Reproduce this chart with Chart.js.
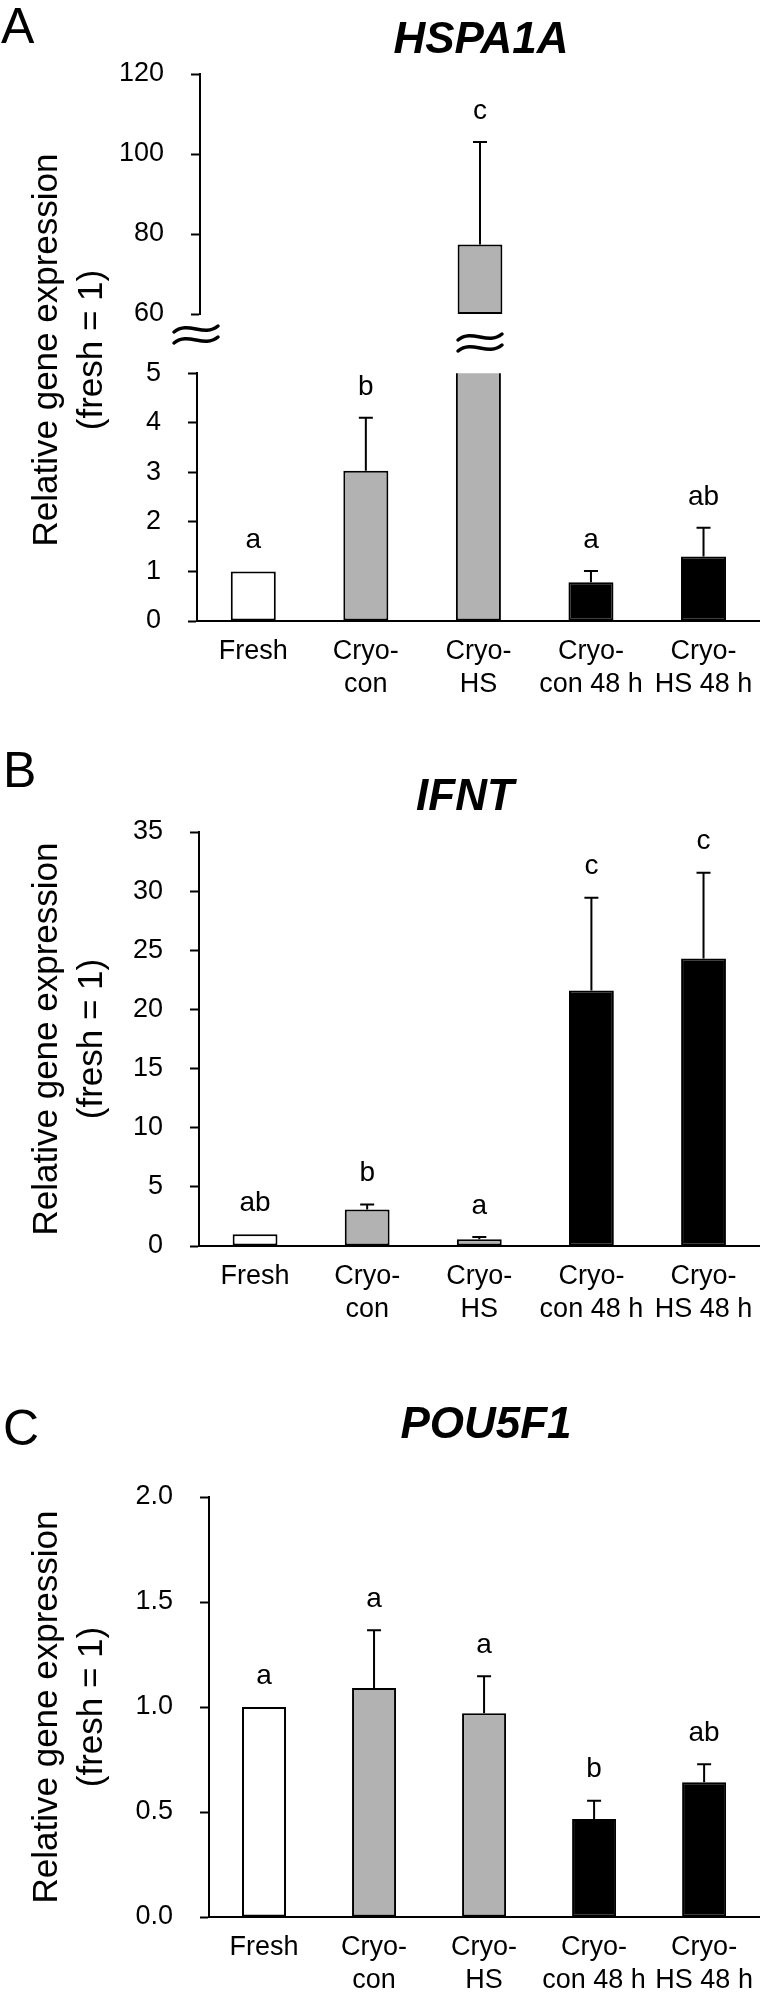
<!DOCTYPE html>
<html><head><meta charset="utf-8">
<script src="https://cdn.jsdelivr.net/npm/chart.js@4.4.0/dist/chart.umd.min.js"></script>
<style>
html,body{margin:0;padding:0;background:#fff;}
#wrap{position:relative;width:767px;height:1996px;overflow:hidden;}
canvas{position:absolute;left:0;}
</style></head><body><div id="wrap">
<canvas id="cA1" width="767" height="700" style="top:0px"></canvas>
<canvas id="cA2" width="767" height="370" style="top:330px"></canvas>
<canvas id="cB" width="767" height="630" style="top:700px"></canvas>
<canvas id="cC" width="767" height="666" style="top:1330px"></canvas>
</div>
<script>
// ---------- data ----------
const categories = [["Fresh"], ["Cryo-", "con"], ["Cryo-", "HS"], ["Cryo-", "con 48 h"], ["Cryo-", "HS 48 h"]];
const barColors = ["#ffffff", "#b2b2b2", "#b2b2b2", "#000000", "#000000"];

const hspa1aMean = [1.0, 3.03, 77.4, 0.78, 1.30];
const hspa1aErrTop = [null, 4.10, 103.0, 1.01, 1.88];
const hspa1aLetters = ["a", "b", "c", "a", "ab"];
const hspa1aLowerRange = [0, 5, 1];     // min, max, step
const hspa1aUpperRange = [60, 120, 20];

const ifntMean = [1.0, 3.08, 0.57, 21.6, 24.3];
const ifntErrTop = [null, 3.5, 0.76, 29.45, 31.56];
const ifntLetters = ["ab", "b", "a", "c", "c"];
const ifntRange = [0, 35, 5];

const pou5f1Mean = [1.0, 1.09, 0.97, 0.467, 0.642];
const pou5f1ErrTop = [null, 1.365, 1.147, 0.554, 0.727];
const pou5f1Letters = ["a", "a", "a", "b", "ab"];
const pou5f1Range = [0, 2.0, 0.5];

const yTitle1 = "Relative gene expression";
const yTitle2 = "(fresh = 1)";

// ---------- styling helpers ----------
const FONT = 'Arial, "Liberation Sans", sans-serif';

const errLetterPlugin = {
  id: 'errLetters',
  afterDatasetsDraw(chart, args, opts) {
    if (!opts || !opts.mean) return;
    const ctx = chart.ctx;
    const meta = chart.getDatasetMeta(0);
    const ys = chart.scales.y;
    ctx.save();
    ctx.strokeStyle = '#000';
    ctx.lineWidth = 2;
    opts.err.forEach((e, i) => {
      if (e == null) return;
      const x = meta.data[i].x;
      const y0 = ys.getPixelForValue(opts.mean[i]);
      const y1 = ys.getPixelForValue(e);
      ctx.beginPath();
      ctx.moveTo(x, y0); ctx.lineTo(x, y1);
      ctx.moveTo(x - 7, y1); ctx.lineTo(x + 7, y1);
      ctx.stroke();
    });
    ctx.fillStyle = '#000';
    ctx.font = '28px ' + FONT;
    ctx.textAlign = 'center';
    ctx.textBaseline = 'middle';
    opts.letters.forEach((l, i) => {
      if (!l) return;
      const x = meta.data[i].x;
      const top = opts.err[i] != null ? opts.err[i] : opts.mean[i];
      ctx.fillText(l, x, ys.getPixelForValue(top) - 31);
    });
    ctx.restore();
  }
};

const textPlugin = {
  id: 'pageText',
  afterDraw(chart, args, opts) {
    if (!opts || !opts.items) return;
    const ctx = chart.ctx;
    const off = opts.top || 0;
    ctx.save();
    ctx.fillStyle = '#000';
    opts.items.forEach(it => {
      ctx.save();
      ctx.font = it.font;
      ctx.textAlign = it.align || 'center';
      ctx.textBaseline = it.baseline || 'alphabetic';
      ctx.translate(it.x, it.y - off);
      if (it.rot) ctx.rotate(it.rot);
      ctx.fillText(it.text, 0, 0);
      ctx.restore();
    });
    if (opts.breaks) {
      ctx.strokeStyle = '#000';
      ctx.lineWidth = 3.5;
      ctx.lineCap = 'round';
      opts.breaks.forEach(b => {
        let cx = b.x;
        if (b.barIndex != null) cx = chart.getDatasetMeta(0).data[b.barIndex].x;
        [b.y - 5, b.y + 6].forEach(cy => {
          const w = 44, h = 9, x0 = cx - w / 2, yy = cy - off;
          ctx.beginPath();
          ctx.moveTo(x0, yy + 3);
          ctx.bezierCurveTo(x0 + w * 0.33, yy - h, x0 + w * 0.67, yy + h, x0 + w, yy - 3);
          ctx.stroke();
        });
      });
    }
    ctx.restore();
  }
};

function yTitleItems(centerY) {
  return [
    {text: yTitle1, x: 47, y: centerY, rot: -Math.PI / 2, font: '35px ' + FONT, baseline: 'middle'},
    {text: yTitle2, x: 92, y: centerY, rot: -Math.PI / 2, font: '35px ' + FONT, baseline: 'middle'}
  ];
}

function makeChart(id, cfg) {
  const {data, range, axisX, areaTop, areaRight, xHeight, showX, errOpts, textOpts, decimals, padBottom} = cfg;
  return new Chart(document.getElementById(id), {
    type: 'bar',
    data: {
      labels: categories,
      datasets: [{
        data: data,
        backgroundColor: barColors,
        borderColor: '#000',
        borderWidth: 2,
        borderSkipped: false,
        barPercentage: 0.4,
        categoryPercentage: 1.0,
        clip: 0
      }]
    },
    options: {
      responsive: false,
      devicePixelRatio: 1,
      animation: false,
      layout: {padding: {left: 0, top: areaTop, right: 767 - areaRight, bottom: padBottom || 0}},
      plugins: {
        legend: {display: false},
        tooltip: {enabled: false},
        title: {display: false},
        errLetters: errOpts,
        pageText: textOpts
      },
      scales: {
        x: {
          display: showX,
          grid: {display: false, drawTicks: false},
          border: {display: true, color: '#000', width: 2},
          ticks: {
            color: '#000',
            font: {family: FONT, size: 27, lineHeight: 1.22},
            padding: 14,
            maxRotation: 0,
            autoSkip: false
          },
          afterFit(s) { s.height = xHeight; }
        },
        y: {
          min: range[0], max: range[1],
          grid: {display: true, drawOnChartArea: false, drawTicks: true, tickLength: 9, color: '#000', tickColor: '#000', tickWidth: 2},
          border: {display: true, color: '#000', width: 2},
          ticks: {
            stepSize: range[2],
            color: '#000',
            font: {family: FONT, size: 27},
            padding: 27,
            callback: v => decimals ? Number(v).toFixed(decimals) : String(v)
          },
          afterFit(s) { s.width = axisX; }
        }
      }
    },
    plugins: [errLetterPlugin, textPlugin]
  });
}

// ---------- Panel A (broken axis: two charts) ----------
const upperMin = hspa1aUpperRange[0];
const lowerMax = hspa1aLowerRange[1];
const aUpperData = hspa1aMean.map(v => v > lowerMax ? [upperMin, v] : null);
const aUpperErr = hspa1aMean.map((v, i) => v > lowerMax ? hspa1aErrTop[i] : null);
const aUpperLetters = hspa1aMean.map((v, i) => v > lowerMax ? hspa1aLetters[i] : null);
const aLowerErr = hspa1aMean.map((v, i) => v > lowerMax ? null : hspa1aErrTop[i]);
const aLowerLetters = hspa1aMean.map((v, i) => v > lowerMax ? null : hspa1aLetters[i]);

makeChart('cA1', {
  data: aUpperData, range: hspa1aUpperRange, axisX: 200, areaTop: 74, areaRight: 760,
  xHeight: 0, showX: false, padBottom: 700 - 314,
  errOpts: {mean: hspa1aMean, err: aUpperErr, letters: aUpperLetters},
  textOpts: {top: 0, items: [
    {text: 'A', x: 1, y: 43, align: 'left', font: '50px ' + FONT},
    {text: 'HSPA1A', x: 481, y: 53, font: 'italic bold 44px ' + FONT},
    ...yTitleItems(350)
  ], breaks: [{x: 196, y: 334}, {barIndex: 2, y: 342}]}
});

makeChart('cA2', {
  data: hspa1aMean, range: hspa1aLowerRange, axisX: 197, areaTop: 41, areaRight: 760,
  xHeight: 79, showX: true,
  errOpts: {mean: hspa1aMean, err: aLowerErr, letters: aLowerLetters},
  textOpts: {top: 330, items: []}
});

// ---------- Panel B ----------
makeChart('cB', {
  data: ifntMean, range: ifntRange, axisX: 199, areaTop: 132, areaRight: 760,
  xHeight: 84, showX: true,
  errOpts: {mean: ifntMean, err: ifntErrTop, letters: ifntLetters},
  textOpts: {top: 700, items: [
    {text: 'B', x: 3, y: 787, align: 'left', font: '50px ' + FONT},
    {text: 'IFNT', x: 465, y: 810, font: 'italic bold 44px ' + FONT},
    ...yTitleItems(1039)
  ]}
});

// ---------- Panel C ----------
makeChart('cC', {
  data: pou5f1Mean, range: pou5f1Range, axisX: 209, areaTop: 167, areaRight: 766,
  xHeight: 79, showX: true, decimals: 1,
  errOpts: {mean: pou5f1Mean, err: pou5f1ErrTop, letters: pou5f1Letters},
  textOpts: {top: 1330, items: [
    {text: 'C', x: 3, y: 1445, align: 'left', font: '50px ' + FONT},
    {text: 'POU5F1', x: 486, y: 1438, font: 'italic bold 44px ' + FONT},
    ...yTitleItems(1707)
  ]}
});
</script>
</body></html>
